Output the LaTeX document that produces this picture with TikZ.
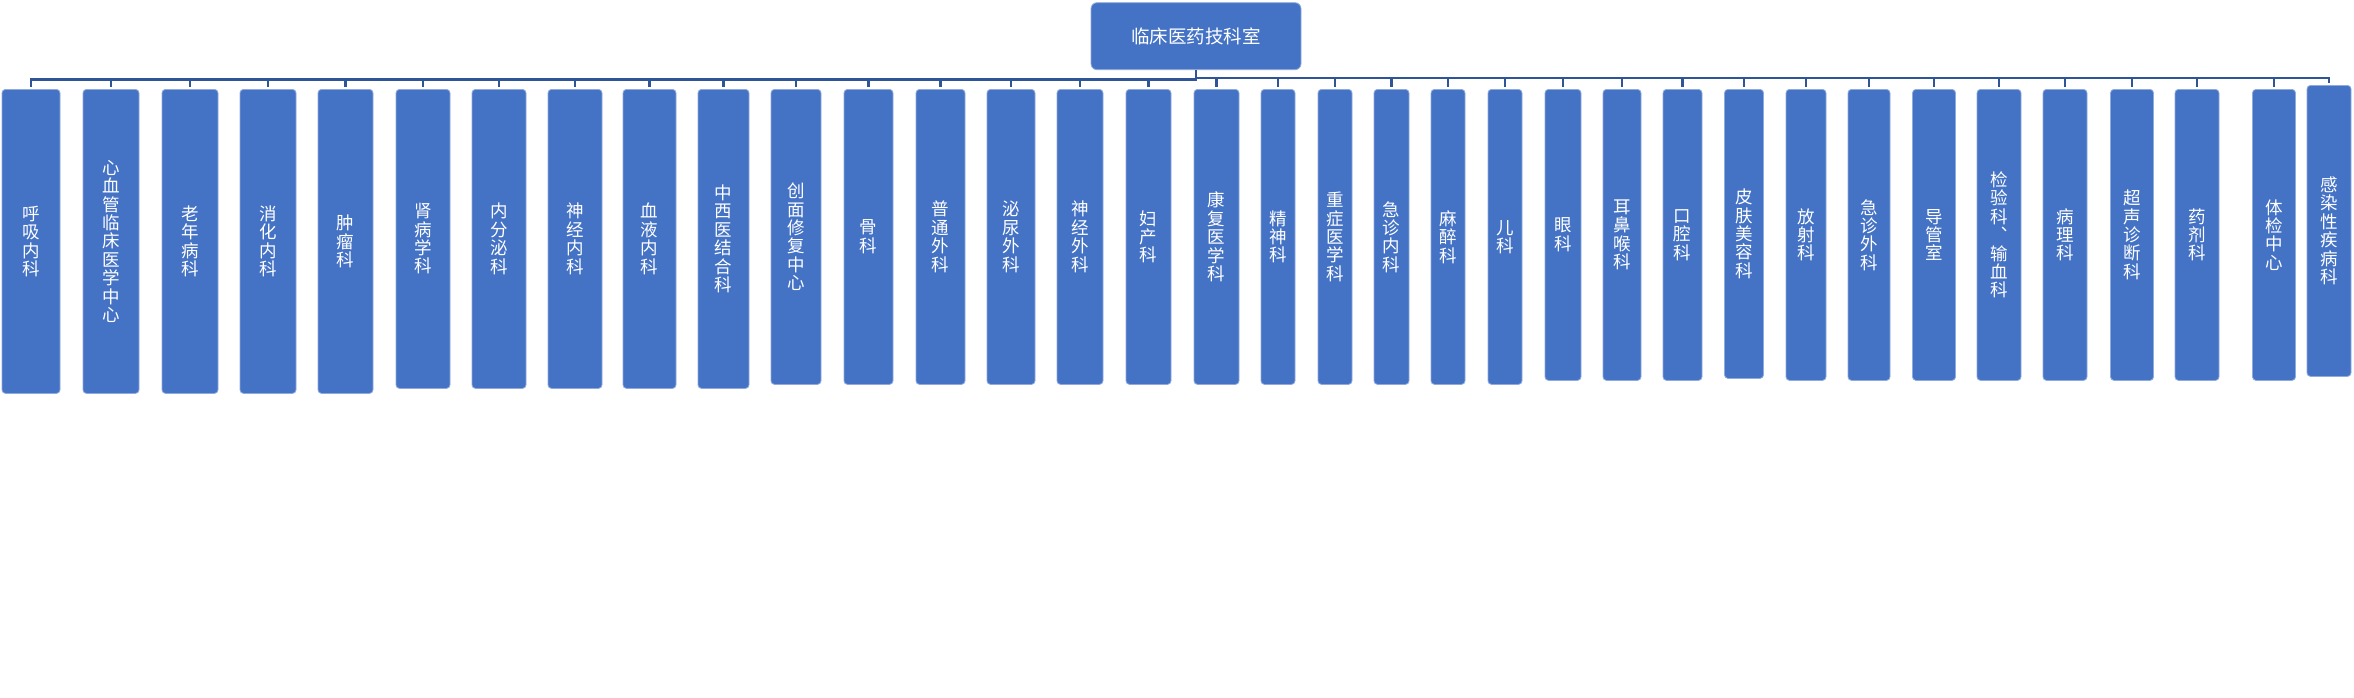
\documentclass[tikz,border=0pt]{standalone}
\usepackage{fontspec}
\newfontfamily\cjk[RawFeature=+vert]{Noto Sans CJK SC}
\definecolor{boxblue}{HTML}{4472C4}
\definecolor{rimblue}{HTML}{8FAADC}
\definecolor{lineblue}{HTML}{2F5597}
\tikzset{%
    every node/.style={rectangle, rounded corners=3.5pt, fill=boxblue,
    	draw=rimblue, line width=.8pt, text=white, inner sep=0pt,
    	align=center, anchor=north},
    head/.style={rounded corners=6pt, font=\cjk\fontsize{18.5}{20}\selectfont},
    dept/.style={font=\cjk\fontsize{17.5}{18.4}\selectfont},
    link/.style={draw=lineblue, line width=2.4pt, shorten >=2.3pt}
}

\begin{document}
\begin{tikzpicture}[x=1pt, y=-1pt]
  \useasboundingbox (0,0) rectangle (2354,697);

  \node (h) [head, minimum width=210pt, minimum height=67pt] at (1196, 2.3) {临床医药技科室};

  \node (d1) [dept, minimum width=58pt, minimum height=304pt] at (31, 89) {呼\\吸\\内\\科};
  \node (d2) [dept, minimum width=56pt, minimum height=304pt] at (111, 89) {心\\血\\管\\临\\床\\医\\学\\中\\心};
  \node (d3) [dept, minimum width=56pt, minimum height=304pt] at (190, 89) {老\\年\\病\\科};
  \node (d4) [dept, minimum width=56pt, minimum height=304pt] at (268, 89) {消\\化\\内\\科};
  \node (d5) [dept, minimum width=55pt, minimum height=304pt] at (345.5, 89) {肿\\瘤\\科};

  \node (d6) [dept, minimum width=54pt, minimum height=299pt] at (423, 89) {肾\\病\\学\\科};
  \node (d7) [dept, minimum width=54pt, minimum height=299pt] at (499, 89) {内\\分\\泌\\科};
  \node (d8) [dept, minimum width=54pt, minimum height=299pt] at (575, 89) {神\\经\\内\\科};
  \node (d9) [dept, minimum width=53pt, minimum height=299pt] at (649.5, 89) {血\\液\\内\\科};
  \node (d10) [dept, minimum width=51pt, minimum height=299pt] at (723.5, 89) {中\\西\\医\\结\\合\\科};

  \node (d11) [dept, minimum width=50pt, minimum height=295pt] at (796, 89) {创\\面\\修\\复\\中\\心};
  \node (d12) [dept, minimum width=49pt, minimum height=295pt] at (868.5, 89) {骨\\科};
  \node (d13) [dept, minimum width=49pt, minimum height=295pt] at (940.5, 89) {普\\通\\外\\科};
  \node (d14) [dept, minimum width=48pt, minimum height=295pt] at (1011, 89) {泌\\尿\\外\\科};
  \node (d15) [dept, minimum width=46pt, minimum height=295pt] at (1080, 89) {神\\经\\外\\科};
  \node (d16) [dept, minimum width=45pt, minimum height=295pt] at (1148.5, 89) {妇\\产\\科};
  \node (d17) [dept, minimum width=45pt, minimum height=295pt] at (1216.5, 89) {康\\复\\医\\学\\科};
  \node (d18) [dept, minimum width=34pt, minimum height=295pt] at (1278, 89) {精\\神\\科};
  \node (d19) [dept, minimum width=34pt, minimum height=295pt] at (1335, 89) {重\\症\\医\\学\\科};
  \node (d20) [dept, minimum width=35pt, minimum height=295pt] at (1391.5, 89) {急\\诊\\内\\科};
  \node (d21) [dept, minimum width=34pt, minimum height=295pt] at (1448, 89) {麻\\醉\\科};
  \node (d22) [dept, minimum width=34pt, minimum height=295pt] at (1505, 89) {儿\\科};

  \node (d23) [dept, minimum width=36pt, minimum height=291pt] at (1563, 89) {眼\\科};
  \node (d24) [dept, minimum width=38pt, minimum height=291pt] at (1622, 89) {耳\\鼻\\喉\\科};
  \node (d25) [dept, minimum width=39pt, minimum height=291pt] at (1682.5, 89) {口\\腔\\科};
  \node (d26) [dept, minimum width=39pt, minimum height=289pt] at (1744, 89) {皮\\肤\\美\\容\\科};
  \node (d27) [dept, minimum width=40pt, minimum height=291pt] at (1806, 89) {放\\射\\科};
  \node (d28) [dept, minimum width=42pt, minimum height=291pt] at (1869, 89) {急\\诊\\外\\科};
  \node (d29) [dept, minimum width=43pt, minimum height=291pt] at (1934, 89) {导\\管\\室};
  \node (d30) [dept, minimum width=44pt, minimum height=291pt] at (1999, 89) {检\\验\\科\\、\\输\\血\\科};
  \node (d31) [dept, minimum width=44pt, minimum height=291pt] at (2065, 89) {病\\理\\科};
  \node (d32) [dept, minimum width=43pt, minimum height=291pt] at (2132, 89) {超\\声\\诊\\断\\科};
  \node (d33) [dept, minimum width=44pt, minimum height=291pt] at (2197, 89) {药\\剂\\科};
  \node (d34) [dept, minimum width=43pt, minimum height=291pt] at (2274, 89) {体\\检\\中\\心};
  \node (d35) [dept, minimum width=44pt, minimum height=291pt] at (2329, 85) {感\\染\\性\\疾\\病\\科};

  % left half of the tree
  \draw[link] (h.south) -- ++(0,9.2) -| (d1.north); \draw[link] (h.south) -- ++(0,9.2) -| (d2.north);
  \draw[link] (h.south) -- ++(0,9.2) -| (d3.north); \draw[link] (h.south) -- ++(0,9.2) -| (d4.north);
  \draw[link] (h.south) -- ++(0,9.2) -| (d5.north); \draw[link] (h.south) -- ++(0,9.2) -| (d6.north);
  \draw[link] (h.south) -- ++(0,9.2) -| (d7.north); \draw[link] (h.south) -- ++(0,9.2) -| (d8.north);
  \draw[link] (h.south) -- ++(0,9.2) -| (d9.north); \draw[link] (h.south) -- ++(0,9.2) -| (d10.north);
  \draw[link] (h.south) -- ++(0,9.2) -| (d11.north); \draw[link] (h.south) -- ++(0,9.2) -| (d12.north);
  \draw[link] (h.south) -- ++(0,9.2) -| (d13.north); \draw[link] (h.south) -- ++(0,9.2) -| (d14.north);
  \draw[link] (h.south) -- ++(0,9.2) -| (d15.north); \draw[link] (h.south) -- ++(0,9.2) -| (d16.north);

  % right half of the tree
  \draw[link] (h.south) -- ++(0,7.7) -| (d17.north); \draw[link] (h.south) -- ++(0,7.7) -| (d18.north);
  \draw[link] (h.south) -- ++(0,7.7) -| (d19.north); \draw[link] (h.south) -- ++(0,7.7) -| (d20.north);
  \draw[link] (h.south) -- ++(0,7.7) -| (d21.north); \draw[link] (h.south) -- ++(0,7.7) -| (d22.north);
  \draw[link] (h.south) -- ++(0,7.7) -| (d23.north); \draw[link] (h.south) -- ++(0,7.7) -| (d24.north);
  \draw[link] (h.south) -- ++(0,7.7) -| (d25.north); \draw[link] (h.south) -- ++(0,7.7) -| (d26.north);
  \draw[link] (h.south) -- ++(0,7.7) -| (d27.north); \draw[link] (h.south) -- ++(0,7.7) -| (d28.north);
  \draw[link] (h.south) -- ++(0,7.7) -| (d29.north); \draw[link] (h.south) -- ++(0,7.7) -| (d30.north);
  \draw[link] (h.south) -- ++(0,7.7) -| (d31.north); \draw[link] (h.south) -- ++(0,7.7) -| (d32.north);
  \draw[link] (h.south) -- ++(0,7.7) -| (d33.north); \draw[link] (h.south) -- ++(0,7.7) -| (d34.north);
  \draw[link] (h.south) -- ++(0,7.7) -| (d35.north);

\end{tikzpicture}
\end{document}
